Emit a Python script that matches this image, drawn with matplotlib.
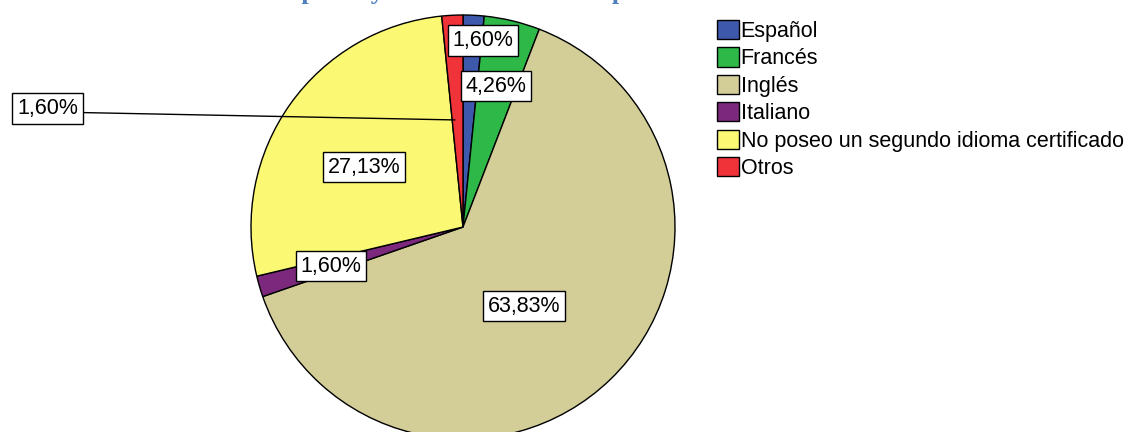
import matplotlib.pyplot as plt

# Datos
idiomas = ['Español', 'Francés', 'Inglés', 'Italiano',
           'No poseo un segundo idioma certificado', 'Otros']
porcentajes = [1.60, 4.26, 63.83, 1.60, 27.13, 1.60]
etiquetas = ['1,60%', '4,26%', '63,83%', '1,60%', '27,13%', '1,60%']
colores = ['#3e58ac', '#2eb848', '#d3ce97', '#7c287d', '#fbf873', '#ef3338']

# Posición de cada etiqueta (coordenadas del pastel, radio 1)
pos_etiquetas = [(0.094, 0.88), (0.156, 0.665), (0.29, -0.373),
                 (-0.623, -0.184), (-0.467, 0.283), (-1.96, 0.56)]

plt.rcParams['font.family'] = ['Liberation Sans', 'DejaVu Sans']
tam = 15.5

fig = plt.figure(figsize=(11.33, 4.32), dpi=100)

# Título (cortado en la parte superior, como en la imagen original)
fig.text(195 / 1133, 433 / 432, 'Idiomas: poseo y certificación oficial por nivel',
         color='#4f81bd', fontsize=19, fontweight='bold',
         family='Liberation Serif', ha='left', va='baseline')

ax = fig.add_axes([251 / 1133, -7 / 432, 424 / 1133, 424 / 432])
wedges, _ = ax.pie(porcentajes, colors=colores, startangle=90, counterclock=False,
                   wedgeprops=dict(edgecolor='black', linewidth=1))
ax.set_xlim(-1, 1)
ax.set_ylim(-1, 1)
ax.set_aspect('equal')

caja = dict(boxstyle='square,pad=0.22', facecolor='white', edgecolor='black', linewidth=1)
for i, (txt, (x, y)) in enumerate(zip(etiquetas, pos_etiquetas)):
    if idiomas[i] == 'Otros':
        # Etiqueta fuera del pastel con línea guía
        ax.annotate(txt, xy=(-0.038, 0.505), xytext=(x, y), fontsize=tam,
                    ha='center', va='center', bbox=caja, annotation_clip=False,
                    arrowprops=dict(arrowstyle='-', color='black', linewidth=1,
                                    relpos=(1, 0.3), shrinkA=0, shrinkB=0))
    else:
        ax.text(x, y, txt, fontsize=tam, ha='center', va='center', bbox=caja)

# Leyenda
fig.legend(wedges, idiomas, loc='upper left', bbox_to_anchor=(717 / 1133, 1 - 20 / 432),
           frameon=False, fontsize=tam, handlelength=1.0, handleheight=1.0,
           handletextpad=0.1, labelspacing=0.25, borderpad=0, borderaxespad=0)

plt.savefig('out.png', dpi=100)
